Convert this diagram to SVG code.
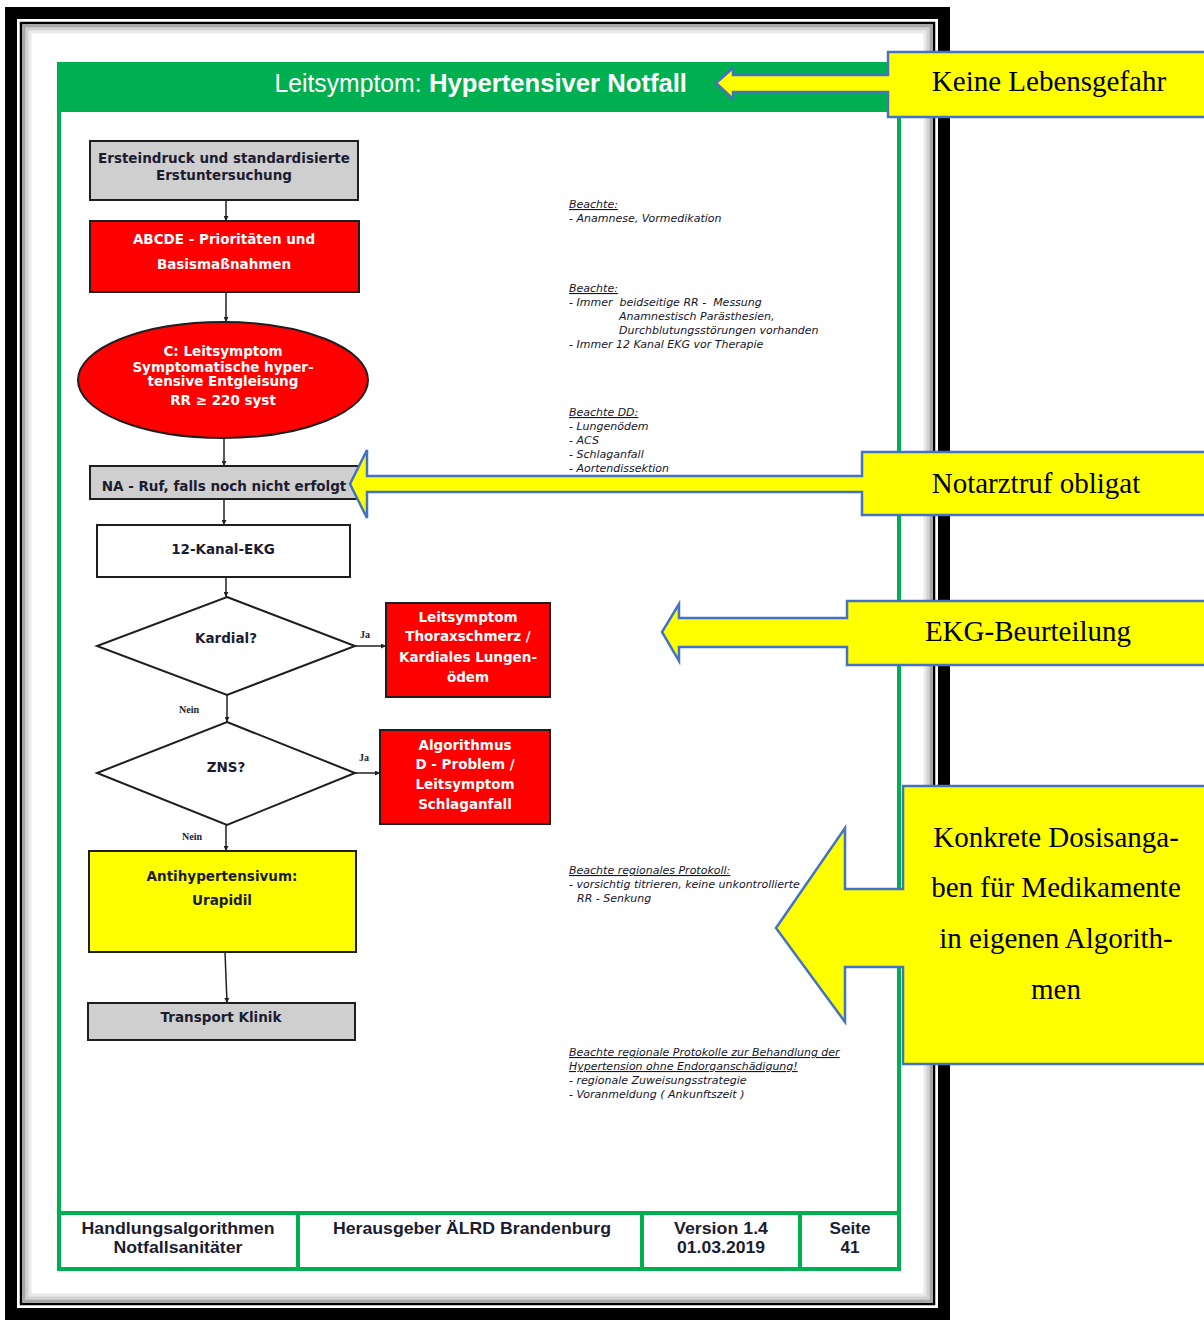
<svg xmlns="http://www.w3.org/2000/svg" width="1204" height="1322" viewBox="0 0 1204 1322">
  <defs>
    <marker id="tip" viewBox="0 0 6 6" refX="6" refY="3" markerWidth="5" markerHeight="5" markerUnits="userSpaceOnUse" orient="auto">
      <path d="M0,0 L6,3 L0,6 z" fill="#222"/>
    </marker>
    <style>
      .box { stroke: #1e1e1e; stroke-width: 2; }
      .gray { fill: #cfcfcf; }
      .red { fill: #ff0000; }
      .yel { fill: #ffff00; }
      .wht { fill: #ffffff; }
      .t { font-family: "DejaVu Sans", "Liberation Sans", sans-serif; font-weight: bold; font-size: 13.5px; text-anchor: middle; }
      .dark { fill: #1c1c30; }
      .light { fill: #ffffff; }
      .lbl { font-family: "Liberation Serif", serif; font-weight: bold; font-size: 10px; fill: #1c1c30; text-anchor: middle; }
      .note { font-family: "DejaVu Sans", "Liberation Sans", sans-serif; font-style: italic; font-size: 11px; fill: #14142a; }
      .u { text-decoration: underline; }
      .foot { font-family: "Liberation Sans", Arial, sans-serif; font-weight: bold; font-size: 17px; fill: #1c1c30; text-anchor: middle; }
      .call { fill: #ffff00; stroke: #4472c4; stroke-width: 2.5; stroke-linejoin: miter; }
      .ct { font-family: "Liberation Serif", "Times New Roman", serif; font-size: 29px; fill: #000; text-anchor: middle; }
      .conn { stroke: #222; stroke-width: 1.5; fill: none; marker-end: url(#tip); }
    </style>
  </defs>

  <rect width="1204" height="1322" fill="#ffffff"/>

  <!-- page frame: thick black border, thin inner rule and soft inner shadow -->
  <g id="frame">
    <rect x="11" y="13" width="933" height="1301" fill="none" stroke="#000" stroke-width="12"/>
    <rect x="21" y="23" width="913" height="1281" fill="none" stroke="#000" stroke-width="2.5"/>
    <rect x="24" y="26" width="907" height="1275" fill="none" stroke="#6e6e6e" stroke-width="3" opacity="0.6"/>
    <rect x="27" y="29" width="901" height="1269" fill="none" stroke="#9a9a9a" stroke-width="3" opacity="0.45"/>
    <rect x="30" y="32" width="895" height="1263" fill="none" stroke="#c8c8c8" stroke-width="3" opacity="0.4"/>
  </g>

  <!-- green sheet border, title bar and footer -->
  <g id="sheet">
    <rect x="59" y="64" width="840" height="1205" fill="none" stroke="#00b050" stroke-width="4"/>
    <rect x="57" y="62" width="844" height="50" fill="#00b050"/>
    <text x="348" y="92" font-family="'Liberation Sans', Arial, sans-serif" font-size="26" fill="#fff" text-anchor="middle" textLength="147" lengthAdjust="spacingAndGlyphs">Leitsymptom:</text>
    <text x="558" y="92" font-family="'Liberation Sans', Arial, sans-serif" font-size="26" font-weight="bold" fill="#fff" text-anchor="middle" textLength="258" lengthAdjust="spacingAndGlyphs">Hypertensiver Notfall</text>
  </g>

  <g id="footer">
    <line x1="59" y1="1213" x2="899" y2="1213" stroke="#00b050" stroke-width="4"/>
    <line x1="298" y1="1213" x2="298" y2="1269" stroke="#00b050" stroke-width="4"/>
    <line x1="642" y1="1213" x2="642" y2="1269" stroke="#00b050" stroke-width="4"/>
    <line x1="800" y1="1213" x2="800" y2="1269" stroke="#00b050" stroke-width="4"/>
    <text class="foot" x="178" y="1234" textLength="193" lengthAdjust="spacingAndGlyphs">Handlungsalgorithmen</text>
    <text class="foot" x="178" y="1253" textLength="129" lengthAdjust="spacingAndGlyphs">Notfallsanitäter</text>
    <text class="foot" x="472" y="1234" textLength="278" lengthAdjust="spacingAndGlyphs">Herausgeber ÄLRD Brandenburg</text>
    <text class="foot" x="721" y="1234" textLength="94" lengthAdjust="spacingAndGlyphs">Version 1.4</text>
    <text class="foot" x="721" y="1253" textLength="88" lengthAdjust="spacingAndGlyphs">01.03.2019</text>
    <text class="foot" x="850" y="1234" textLength="41" lengthAdjust="spacingAndGlyphs">Seite</text>
    <text class="foot" x="850" y="1253" textLength="19" lengthAdjust="spacingAndGlyphs">41</text>
  </g>

  <!-- connectors -->
  <g id="connectors">
    <line class="conn" x1="226" y1="200" x2="226" y2="221"/>
    <line class="conn" x1="226" y1="292" x2="226" y2="322"/>
    <line class="conn" x1="224" y1="437" x2="224" y2="466"/>
    <line class="conn" x1="224" y1="499" x2="224" y2="525"/>
    <line class="conn" x1="226" y1="577" x2="226" y2="597"/>
    <line class="conn" x1="355" y1="646" x2="386" y2="646"/>
    <line class="conn" x1="227" y1="695" x2="227" y2="722"/>
    <line class="conn" x1="355" y1="773" x2="380" y2="773"/>
    <line class="conn" x1="226" y1="825" x2="226" y2="851"/>
    <line class="conn" x1="225" y1="952" x2="227" y2="1003"/>
    <text class="lbl" x="365" y="638">Ja</text>
    <text class="lbl" x="364" y="761">Ja</text>
    <text class="lbl" x="189" y="713">Nein</text>
    <text class="lbl" x="192" y="840">Nein</text>
  </g>

  <!-- flow nodes -->
  <g id="n-ersteindruck">
    <rect class="box gray" x="90" y="141" width="268" height="59"/>
    <text class="t dark" x="224" y="163">Ersteindruck und standardisierte</text>
    <text class="t dark" x="224" y="180">Erstuntersuchung</text>
  </g>
  <g id="n-abcde">
    <rect class="box red" x="90" y="221" width="269" height="71"/>
    <text class="t light" x="224" y="244">ABCDE - Prioritäten und</text>
    <text class="t light" x="224" y="269">Basismaßnahmen</text>
  </g>
  <g id="n-leitsymptom">
    <ellipse class="box red" cx="223" cy="380" rx="145" ry="58"/>
    <text class="t light" x="223" y="356">C: Leitsymptom</text>
    <text class="t light" x="223" y="372">Symptomatische hyper-</text>
    <text class="t light" x="223" y="386">tensive Entgleisung</text>
    <text class="t light" x="223" y="405">RR ≥ 220 syst</text>
  </g>
  <g id="n-naruf">
    <rect class="box gray" x="90" y="466" width="270" height="33"/>
    <text class="t dark" x="224" y="491">NA - Ruf, falls noch nicht erfolgt</text>
  </g>
  <g id="n-ekg">
    <rect class="box wht" x="97" y="525" width="253" height="52"/>
    <text class="t dark" x="223" y="554">12-Kanal-EKG</text>
  </g>
  <g id="n-kardial">
    <polygon class="box wht" points="227,597 355,646 227,695 97,646" stroke-width="1.5"/>
    <text class="t dark" x="226" y="643">Kardial?</text>
  </g>
  <g id="n-thorax">
    <rect class="box red" x="386" y="603" width="164" height="94"/>
    <text class="t light" x="468" y="622">Leitsymptom</text>
    <text class="t light" x="468" y="641">Thoraxschmerz /</text>
    <text class="t light" x="468" y="662">Kardiales Lungen-</text>
    <text class="t light" x="468" y="682">ödem</text>
  </g>
  <g id="n-zns">
    <polygon class="box wht" points="227,722 355,773 227,825 97,773" stroke-width="1.5"/>
    <text class="t dark" x="226" y="772">ZNS?</text>
  </g>
  <g id="n-dproblem">
    <rect class="box red" x="380" y="730" width="170" height="94"/>
    <text class="t light" x="465" y="750">Algorithmus</text>
    <text class="t light" x="465" y="769">D - Problem /</text>
    <text class="t light" x="465" y="789">Leitsymptom</text>
    <text class="t light" x="465" y="809">Schlaganfall</text>
  </g>
  <g id="n-urapidil">
    <rect class="box yel" x="89" y="851" width="267" height="101"/>
    <text class="t dark" x="222" y="881">Antihypertensivum:</text>
    <text class="t dark" x="222" y="905">Urapidil</text>
  </g>
  <g id="n-transport">
    <rect class="box gray" x="88" y="1003" width="267" height="37"/>
    <text class="t dark" x="221" y="1022">Transport Klinik</text>
  </g>

  <!-- side notes -->
  <g id="notes">
    <text class="note u" x="569" y="208">Beachte:</text>
    <text class="note" x="569" y="222">- Anamnese, Vormedikation</text>

    <text class="note u" x="569" y="292">Beachte:</text>
    <text class="note" x="569" y="306" xml:space="preserve">- Immer  beidseitige RR -  Messung</text>
    <text class="note" x="619" y="320">Anamnestisch Parästhesien,</text>
    <text class="note" x="619" y="334">Durchblutungsstörungen vorhanden</text>
    <text class="note" x="569" y="348">- Immer 12 Kanal EKG vor Therapie</text>

    <text class="note u" x="569" y="416">Beachte DD:</text>
    <text class="note" x="569" y="430">- Lungenödem</text>
    <text class="note" x="569" y="444">- ACS</text>
    <text class="note" x="569" y="458">- Schlaganfall</text>
    <text class="note" x="569" y="472">- Aortendissektion</text>

    <text class="note u" x="569" y="874">Beachte regionales Protokoll:</text>
    <text class="note" x="569" y="888">- vorsichtig titrieren, keine unkontrollierte</text>
    <text class="note" x="577" y="902">RR - Senkung</text>

    <text class="note u" x="569" y="1056">Beachte regionale Protokolle zur Behandlung der</text>
    <text class="note u" x="569" y="1070">Hypertension ohne Endorganschädigung!</text>
    <text class="note" x="569" y="1084">- regionale Zuweisungsstrategie</text>
    <text class="note" x="569" y="1098">- Voranmeldung ( Ankunftszeit )</text>
  </g>

  <!-- yellow callouts with arrows -->
  <g id="c-lebensgefahr">
    <polygon class="call" points="1212,52 888,52 888,75 733,75 733,68 716,83 733,99 733,92 888,92 888,117 1212,117"/>
    <text class="ct" x="1049" y="91">Keine Lebensgefahr</text>
  </g>
  <g id="c-notarzt">
    <polygon class="call" points="1212,452 862,452 862,476 367,476 367,450 350,484 367,518 367,492 862,492 862,515 1212,515"/>
    <text class="ct" x="1036" y="493">Notarztruf obligat</text>
  </g>
  <g id="c-ekg">
    <polygon class="call" points="1212,601 847,601 847,618 679,618 679,604 662,632 679,661 679,647 847,647 847,665 1212,665"/>
    <text class="ct" x="1028" y="641">EKG-Beurteilung</text>
  </g>
  <g id="c-dosis">
    <polygon class="call" points="1212,786 903,786 903,889 845,889 845,828 776,928 845,1022 845,967 903,967 903,1064 1212,1064"/>
    <text class="ct" x="1056" y="847">Konkrete Dosisanga-</text>
    <text class="ct" x="1056" y="897">ben für Medikamente</text>
    <text class="ct" x="1056" y="948">in eigenen Algorith-</text>
    <text class="ct" x="1056" y="999">men</text>
  </g>
</svg>
